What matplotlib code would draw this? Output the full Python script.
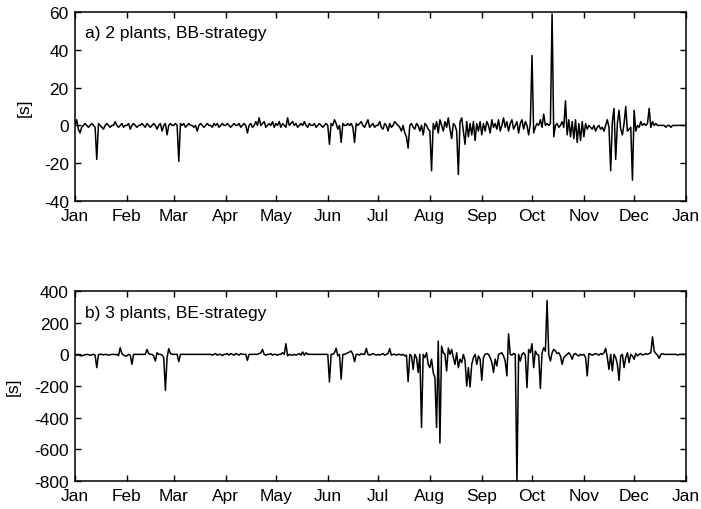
# Daily time deviation for two plant/strategy set-ups over one year
import numpy as np
import matplotlib.pyplot as plt

plt.rcParams['font.family'] = ['Liberation Sans', 'DejaVu Sans']
plt.rcParams['font.size'] = 12.5
plt.rcParams['axes.unicode_minus'] = False

month_labels = ['Jan', 'Feb', 'Mar', 'Apr', 'May', 'Jun', 'Jul',
                'Aug', 'Sep', 'Oct', 'Nov', 'Dec', 'Jan']
month_days = [31, 28, 31, 30, 31, 30, 31, 31, 30, 31, 30, 31]

# a) 2 plants, BB-strategy  [s], one value per day, month by month
a_jan = [0, 3, -2, -4, -1, 0, 1, 0, -1, 0, 1, 0, -1, -18, 1, 0, -1, -2, 0, 1, 0, -1, 0, 0, 2, 0, -1, 0, 1, -1, 0]
a_feb = [0, 1, -2, 0, 1, 0, -1, 0, 0, 1, 0, -1, 1, 0, -1, 0, 1, 0, -2, 0, 1, -3, 0, 1, -5, 0, 1, 0]
a_mar = [0, 1, 0, -19, 1, 0, 1, -1, 0, 1, 0, 0, -1, 0, -3, 0, 1, 0, -1, 0, 1, 0, 0, -1, 1, 0, 1, -1, 0, 1, 0]
a_apr = [0, 1, 0, -1, 0, 1, 0, 0, 1, -1, 0, 1, 0, -4, 0, 1, -1, 0, 2, 0, 4, 0, 1, 2, -1, 0, 1, 0, 2, -1]
a_may = [1, 0, 2, -1, 1, 0, -1, 4, 0, 1, 2, 0, 1, -1, 0, 1, 0, 2, 0, -1, 1, 0, 0, 1, -1, 0, 1, 0, -1, 0, 1]
a_jun = [0, -10, 1, 0, 3, 1, -2, 0, -9, 1, 0, 0, 1, 0, 1, -1, -9, 1, 0, 1, 2, 0, -1, 1, 3, -1, 0, 1, -1, 0]
a_jul = [0, 2, -1, -2, 1, 0, -3, 1, -1, 0, 2, 1, 0, -1, -3, 0, -4, -6, -12, 0, 1, -1, -2, 1, 0, -3, 0, -5, 1, 0, -2]
a_aug = [-3, -24, 1, -2, 2, -4, 3, 0, -3, 2, -1, 4, -2, -7, 1, 0, -3, -26, 2, 4, -3, -10, 2, -6, 1, -5, 2, -8, 1, -3, 2]
a_sep = [-5, 1, -3, 2, 0, -4, 3, -1, 1, -2, 3, -3, 0, 4, -1, 2, -3, 1, 3, -2, 0, 2, -4, 1, 3, -2, 2, 0, -5, 1]
a_oct = [37, -4, -1, 1, 0, 3, -1, 6, 0, 1, 0, 1, 59, -6, 0, 1, -1, 0, 2, -1, 13, -5, 3, -6, 2, -7, 3, -9, 1, -8, 2]
a_nov = [-6, 1, -2, 0, -1, -2, 0, -3, -1, 0, -2, -1, -3, 0, 3, -1, -24, 2, 9, -18, 1, 8, -2, -5, 1, 10, -3, -2, -1, -29]
a_dec = [8, -3, 0, -1, 2, 0, 1, 0, 1, 9, -1, 2, 0, 1, 0, 0, 0, 0, 0, -1, 0, 0, -1, 0, 0, 0, 0, 0, 0, 0, 0]

# b) 3 plants, BE-strategy  [s]
b_jan = [0, -5, -3, -8, -10, -5, -3, 0, -2, -5, -3, 0, -5, -84, -2, 0, 0, -3, 0, -2, -5, -3, 0, 0, -2, 0, -8, 42, 5, -5, -10]
b_feb = [-10, 0, -5, -63, 0, 0, 0, 0, 0, 0, 0, 0, 31, 5, 0, 0, -10, -42, 10, 0, 0, -5, -20, -227, -21, 36, 5, 0]
b_mar = [0, 0, 0, -46, 0, 0, 0, 0, 0, 0, 0, 0, 0, 0, 0, 0, 0, 0, 0, 0, 0, 0, 0, -5, 0, 5, -5, 0, 0, -8, 0]
b_apr = [0, 5, -5, 5, 0, -5, 5, 0, -5, 5, 0, 0, 0, -38, 0, 0, 0, 0, 0, 0, 5, 10, 31, 0, -5, 0, 0, 5, -5, 0]
b_may = [0, -5, 0, 0, 10, 0, 67, -10, 0, -5, -5, 0, -5, 0, 5, -5, 15, -5, 10, 0, 0, 0, 0, 0, 0, 0, 0, 0, 0, 0, 0]
b_jun = [0, -174, 0, 0, 10, 38, -10, 0, -157, 0, 0, 5, 10, 15, 21, 0, -46, 0, 0, -5, 5, 0, 0, 38, 0, -5, 0, 5, 0, -5]
b_jul = [0, -5, 0, 5, -5, 0, 5, 36, -5, 0, 0, -5, 0, 0, -5, 0, -10, -5, -172, 0, -10, -95, 0, -20, -115, 0, -462, 0, -20, 10, -63]
b_aug = [-84, -30, -115, -147, -462, 84, -560, 52, 10, 0, -105, 40, 0, 31, -20, -63, 10, -84, -30, -52, 0, -40, -200, -84, -206, -63, -20, 0, -63, -10, -30]
b_sep = [-164, -20, 0, 5, 0, -20, -50, -115, -30, -73, 0, 5, 10, -10, -42, -136, 130, 0, -5, 5, 0, -810, 0, -42, 0, 10, -5, -210, 31, 10]
b_oct = [67, -84, 21, 0, -5, -216, 10, 42, 20, 340, 0, -42, 10, 31, 21, 5, 10, -10, -63, -20, -10, 0, 10, -5, -31, 0, 5, -5, -10, 0, -5]
b_nov = [0, -20, -136, 5, 0, -5, 0, 5, 0, -5, 5, 0, 10, 38, -20, -95, 0, -105, 0, -20, -63, -164, -10, 0, -84, -20, 10, -52, 0, -10]
b_dec = [-31, 5, -10, 0, 5, -5, 0, 5, 0, 5, 10, 110, 20, 5, -5, -25, 0, 5, 0, 0, 0, 0, 0, 0, 0, 0, -5, 0, 0, 0, 0]

series_a = np.concatenate([a_jan, a_feb, a_mar, a_apr, a_may, a_jun,
                           a_jul, a_aug, a_sep, a_oct, a_nov, a_dec])
series_b = np.concatenate([b_jan, b_feb, b_mar, b_apr, b_may, b_jun,
                           b_jul, b_aug, b_sep, b_oct, b_nov, b_dec])
days = np.arange(len(series_a))
month_starts = np.concatenate([[0], np.cumsum(month_days)])

fig = plt.figure(figsize=(7.01, 5.10), dpi=100)
ax1 = fig.add_axes([0.107, 0.6039, 0.8716, 0.3706])
ax2 = fig.add_axes([0.107, 0.0549, 0.8716, 0.3725])


def style(ax, yticks, title, ylabel_x):
    ax.set_xlim(0, 365)
    ax.set_xticks(month_starts)
    ax.set_xticklabels(month_labels)
    ax.set_ylim(yticks[0], yticks[-1])
    ax.set_yticks(yticks)
    ax.tick_params(direction='in', top=True, right=True, length=4,
                   width=1.0)
    ax.tick_params(axis='x', pad=5)
    ax.tick_params(axis='y', pad=4.5)
    for s in ax.spines.values():
        s.set_linewidth(1.1)
    ax.set_ylabel('[s]')
    ax.yaxis.set_label_coords(ylabel_x, 0.5)
    ax.text(0.016, 0.889, title, transform=ax.transAxes, va='center',
            ha='left')


ax1.plot(days, series_a, color='black', lw=1.1)
style(ax1, [-40, -20, 0, 20, 40, 60], 'a) 2 plants, BB-strategy', -0.070)

ax2.plot(days, series_b, color='black', lw=1.1)
style(ax2, [-800, -600, -400, -200, 0, 200, 400],
      'b) 3 plants, BE-strategy', -0.088)

fig.savefig('out.png', dpi=100)
